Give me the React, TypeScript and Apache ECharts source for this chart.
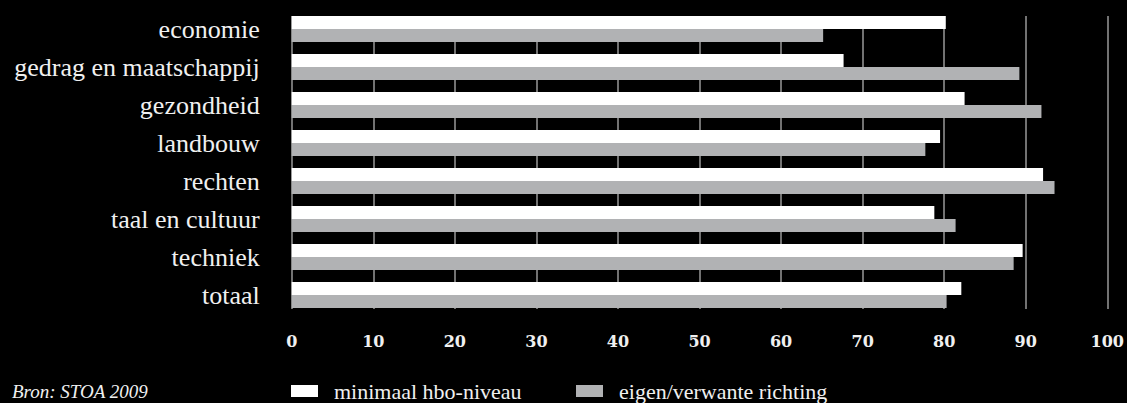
import React, { useEffect, useRef } from "react";
import * as echarts from "echarts";

const categories = [
  "economie",
  "gedrag en maatschappij",
  "gezondheid",
  "landbouw",
  "rechten",
  "taal en cultuur",
  "techniek",
  "totaal",
];
const hboValues = [80, 67.5, 82.3, 79.3, 91.9, 78.6, 89.4, 81.9];
const richtingValues = [65, 89, 91.7, 77.5, 93.3, 81.2, 88.3, 80.1];
const seriesNames = ["minimaal hbo-niveau", "eigen/verwante richting"];
const axisMin = 0;
const axisMax = 100;
const axisStep = 10;
const sourceText = "Bron: STOA 2009";

const WHITE = "#ffffff";
const GRAY = "#b1b2b4";
const TEXT = "#f0f0f0";
const SERIF = "'Liberation Serif', 'Times New Roman', serif";

export default function App() {
  const ref = useRef<HTMLDivElement>(null);
  useEffect(() => {
    if (!ref.current) return;
    const chart = echarts.init(ref.current, undefined, { renderer: "svg" });
    const legendText = {
      fontFamily: SERIF,
      fontSize: 22,
      color: TEXT,
      padding: [0, 0, 0, 11],
    };
    chart.setOption({
      animation: false,
      backgroundColor: "#000000",
      grid: [
        { left: 291.7, right: 17.7, top: 10, height: 304 },
        { left: 291.7, right: 17.7, top: 16, height: 293 },
      ],
      xAxis: [
        { gridIndex: 0, type: "value", min: axisMin, max: axisMax, show: false },
        {
          gridIndex: 1,
          type: "value",
          min: axisMin,
          max: axisMax,
          interval: axisStep,
          axisLine: { show: false },
          axisTick: { show: false },
          splitLine: { show: true, lineStyle: { color: "#999999", width: 1.5 } },
          axisLabel: {
            color: TEXT,
            fontFamily: "DejaVu Serif",
            fontWeight: "bold",
            fontSize: 16,
            margin: 24,
          },
        },
      ],
      yAxis: [
        {
          gridIndex: 0,
          type: "category",
          data: categories,
          inverse: true,
          axisLine: { show: false },
          axisTick: { show: false },
          splitLine: { show: false },
          axisLabel: {
            color: TEXT,
            fontFamily: SERIF,
            fontSize: 26,
            margin: 32,
          },
        },
        { gridIndex: 1, type: "value", show: false },
      ],
      legend: [
        {
          data: [seriesNames[0]],
          left: 291,
          top: 380,
          padding: 0,
          icon: "rect",
          itemWidth: 27,
          itemHeight: 12,
          selectedMode: false,
          textStyle: legendText,
        },
        {
          data: [seriesNames[1]],
          left: 576,
          top: 380,
          padding: 0,
          icon: "rect",
          itemWidth: 27,
          itemHeight: 12,
          selectedMode: false,
          textStyle: legendText,
        },
      ],
      graphic: [
        {
          type: "text",
          left: 12,
          top: 382,
          style: {
            text: sourceText,
            fill: TEXT,
            font: "italic 19px 'Liberation Serif', 'Times New Roman', serif",
          },
        },
      ],
      series: [
        {
          name: seriesNames[0],
          type: "bar",
          xAxisIndex: 0,
          yAxisIndex: 0,
          data: hboValues,
          barWidth: 13,
          barGap: "0%",
          itemStyle: { color: WHITE },
        },
        {
          name: seriesNames[1],
          type: "bar",
          xAxisIndex: 0,
          yAxisIndex: 0,
          data: richtingValues,
          barWidth: 13,
          barGap: "0%",
          itemStyle: { color: GRAY },
        },
      ],
    });
    return () => chart.dispose();
  }, []);
  return (
    <div
      ref={ref}
      style={{
        position: "fixed",
        left: 0,
        top: 0,
        width: 1127,
        height: 403,
        background: "#000",
      }}
    />
  );
}
